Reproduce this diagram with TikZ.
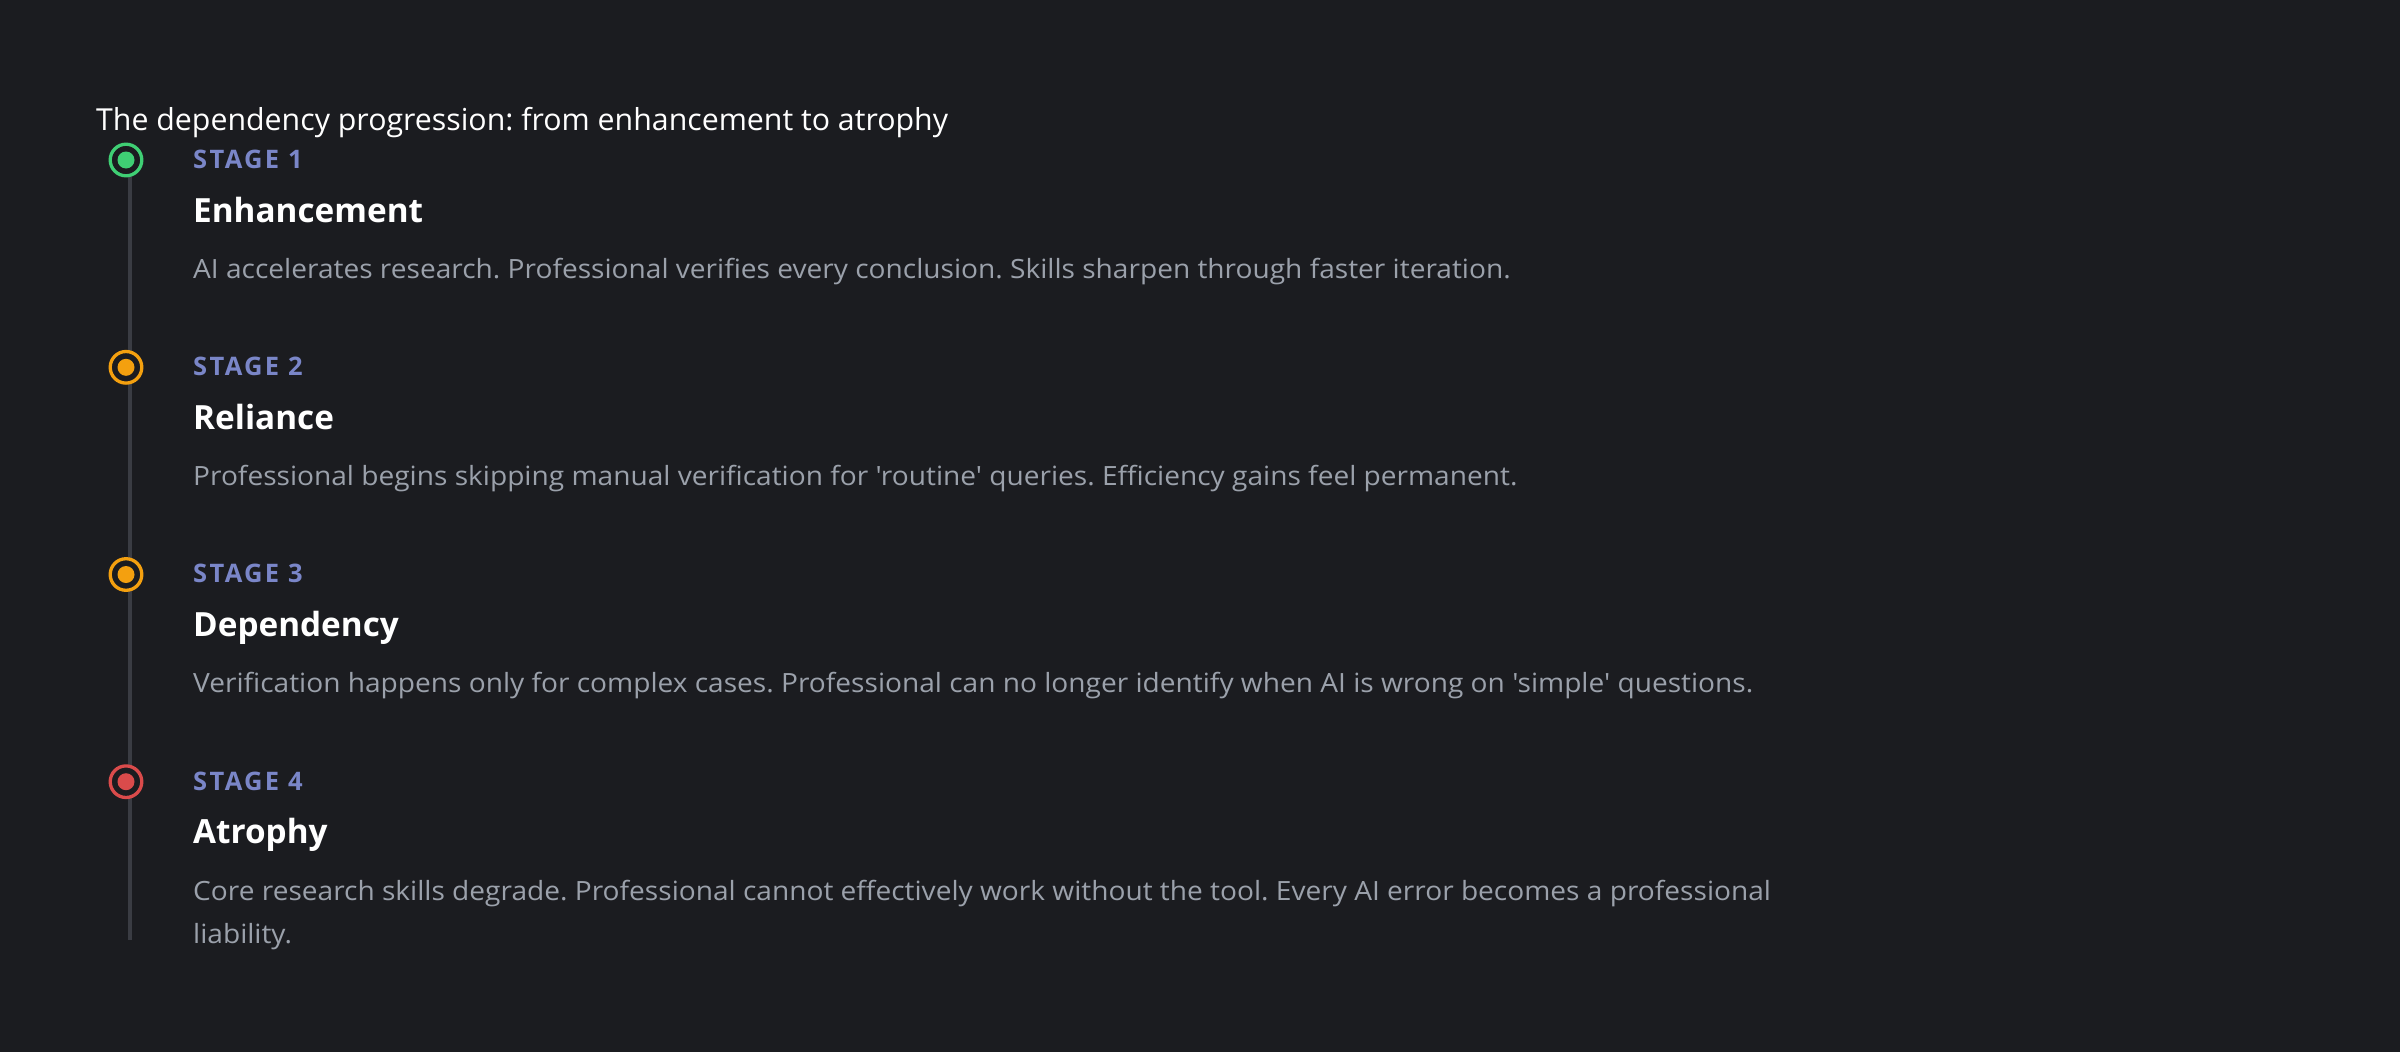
\documentclass[tikz,border=0pt]{standalone}
\usepackage{fontspec}
\setmainfont{Open Sans}[Ligatures=TeXOff]
\frenchspacing
\definecolor{bg}{HTML}{1B1C20}
\definecolor{rail}{HTML}{3A3C43}
\definecolor{stagec}{HTML}{7A86C8}
\definecolor{descc}{HTML}{9BA1AB}
\definecolor{cgreen}{HTML}{3FCF74}
\definecolor{corange}{HTML}{F4A00F}
\definecolor{cred}{HTML}{DA4B4B}
\tikzset{
  titletext/.style={anchor=base west, inner sep=0pt, text=white, font=\fontsize{30.3}{36}\selectfont},
  stagetext/.style={anchor=base west, inner sep=0pt, text=stagec, font=\fontsize{25.5}{30}\selectfont\bfseries\addfontfeatures{LetterSpace=9}},
  headtext/.style={anchor=base west, inner sep=0pt, text=white, font=\fontsize{33.3}{40}\selectfont\bfseries},
  desctext/.style={anchor=base west, inner sep=0pt, text=descc, align=left, font=\fontsize{26.5}{43}\selectfont\addfontfeatures{FakeStretch=1.06}},
  ring/.style={circle, draw=#1, line width=3.3pt, fill=bg, minimum size=31.6pt, inner sep=0pt},
  dot/.style={circle, fill=#1, minimum size=17pt, inner sep=0pt},
  railline/.style={draw=rail, line width=4pt}
}
\begin{document}
\begin{tikzpicture}[x=1pt,y=-1pt]
\fill[bg] (0,0) rectangle (2400,1052);
\useasboundingbox (0,0) rectangle (2400,1052);
\node[titletext] (title) at (96,130) {The dependency progression: from enhancement to atrophy};
\coordinate (railtop) at (130,160);
\coordinate (railbot) at (130,940);
\draw[railline] (railtop) -- (railbot);
% stage 1
\node[ring=cgreen] (r1) at (126,160) {};
\node[dot=cgreen] (d1) at (r1) {};
\node[stagetext] (s1) at (193,168) {STAGE 1};
\node[headtext] (h1) at (193,222) {Enhancement};
\node[desctext] (t1) at (193,278) {AI accelerates research. Professional verifies every conclusion. Skills sharpen through faster iteration.};
% stage 2
\node[ring=corange] (r2) at (126,367.3) {};
\node[dot=corange] (d2) at (r2) {};
\node[stagetext] (s2) at (193,375.3) {STAGE 2};
\node[headtext] (h2) at (193,429.3) {Reliance};
\node[desctext] (t2) at (193,485.3) {Professional begins skipping manual verification for 'routine' queries. Efficiency gains feel permanent.};
% stage 3
\node[ring=corange] (r3) at (126,574.5) {};
\node[dot=corange] (d3) at (r3) {};
\node[stagetext] (s3) at (193,582.5) {STAGE 3};
\node[headtext] (h3) at (193,636.5) {Dependency};
\node[desctext] (t3) at (193,692.5) {Verification happens only for complex cases. Professional can no longer identify when AI is wrong on 'simple' questions.};
% stage 4
\node[ring=cred] (r4) at (126,781.7) {};
\node[dot=cred] (d4) at (r4) {};
\node[stagetext] (s4) at (193,790) {STAGE 4};
\node[headtext] (h4) at (193,843) {Atrophy};
\node[desctext] (t4) at (193,943) {Core research skills degrade. Professional cannot effectively work without the tool. Every AI error becomes a professional\\liability.};
\end{tikzpicture}
\end{document}
